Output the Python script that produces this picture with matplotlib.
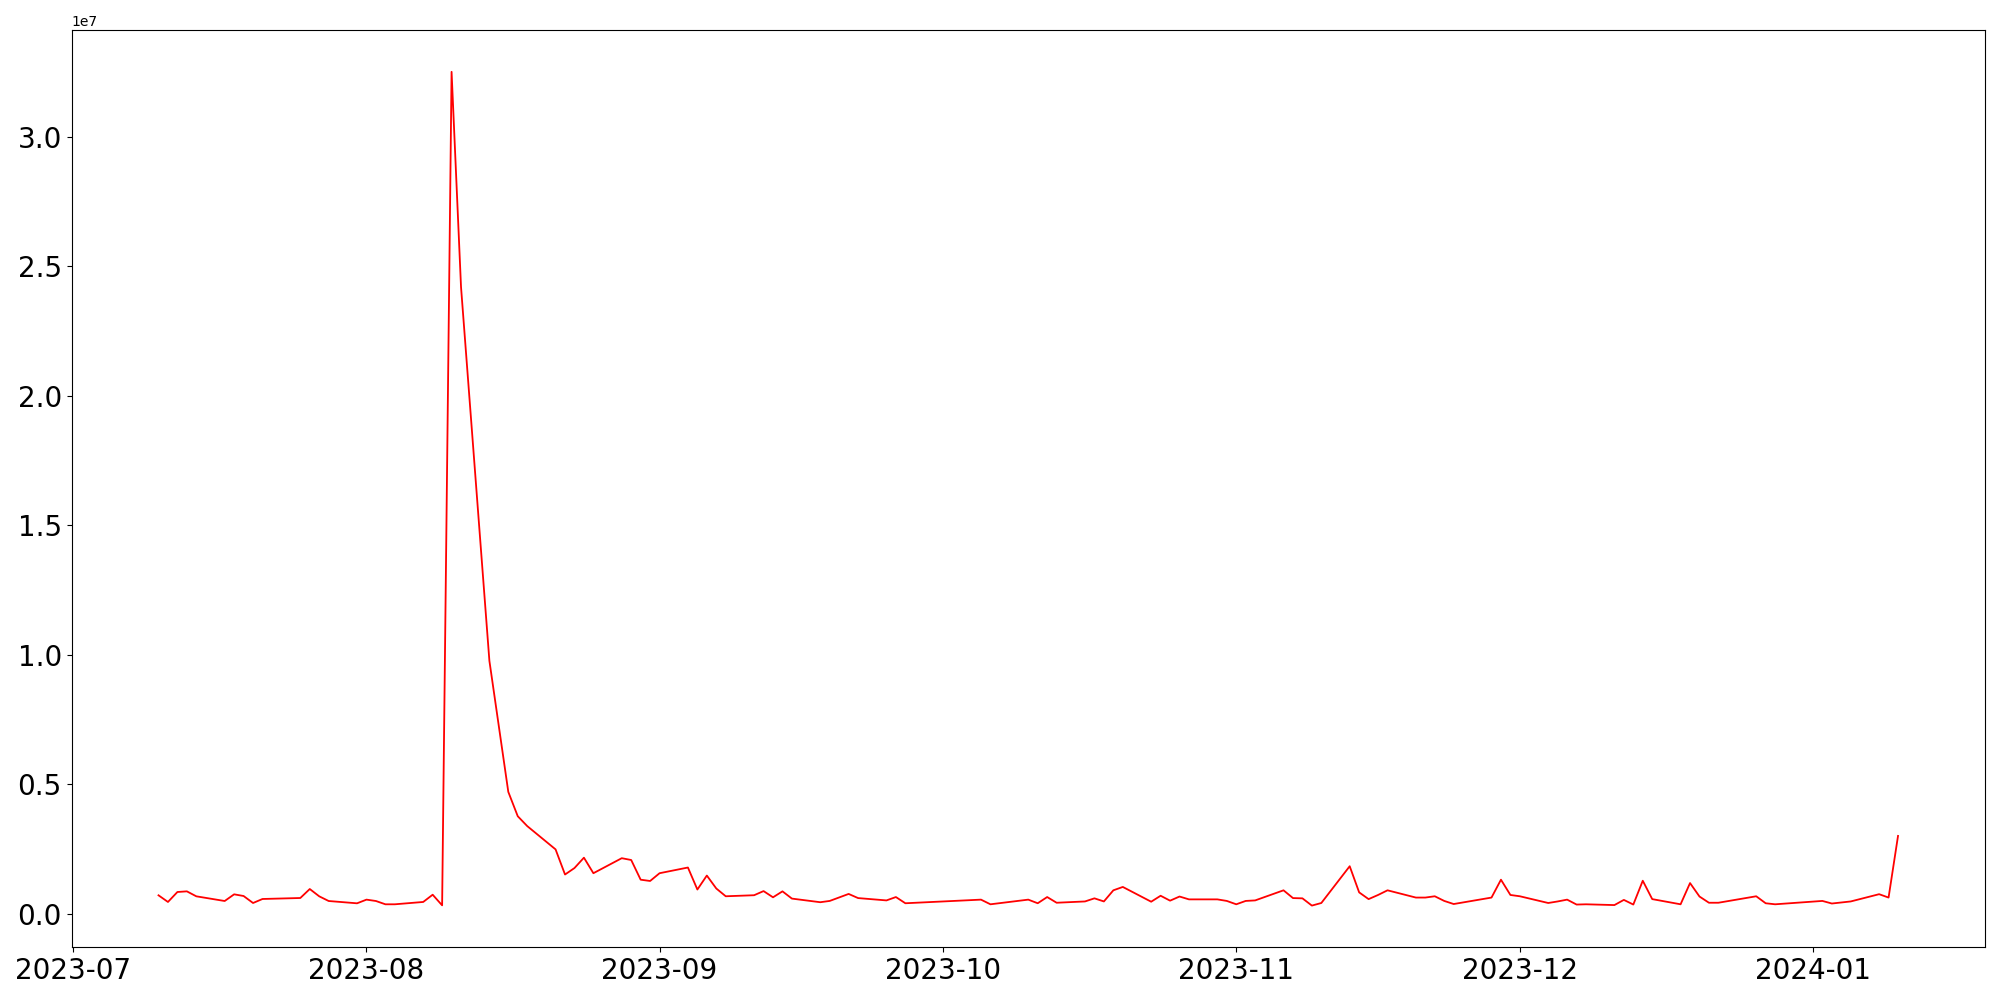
import matplotlib
matplotlib.use('Agg')
import matplotlib.pyplot as plt
import pandas as pd

dates = [
    '2023-07-10', '2023-07-11', '2023-07-12', '2023-07-13', '2023-07-14',
    '2023-07-17', '2023-07-18', '2023-07-19', '2023-07-20', '2023-07-21',
    '2023-07-25', '2023-07-26', '2023-07-27', '2023-07-28',
    '2023-07-31', '2023-08-01', '2023-08-02', '2023-08-03', '2023-08-04',
    '2023-08-07', '2023-08-08', '2023-08-09', '2023-08-10', '2023-08-11',
    '2023-08-14', '2023-08-16', '2023-08-17', '2023-08-18',
    '2023-08-21', '2023-08-22', '2023-08-23', '2023-08-24', '2023-08-25',
    '2023-08-28', '2023-08-29', '2023-08-30', '2023-08-31', '2023-09-01',
    '2023-09-04', '2023-09-05', '2023-09-06', '2023-09-07', '2023-09-08',
    '2023-09-11', '2023-09-12', '2023-09-13', '2023-09-14', '2023-09-15',
    '2023-09-18', '2023-09-19', '2023-09-21', '2023-09-22',
    '2023-09-25', '2023-09-26', '2023-09-27',
    '2023-10-05', '2023-10-06',
    '2023-10-10', '2023-10-11', '2023-10-12', '2023-10-13',
    '2023-10-16', '2023-10-17', '2023-10-18', '2023-10-19', '2023-10-20',
    '2023-10-23', '2023-10-24', '2023-10-25', '2023-10-26', '2023-10-27',
    '2023-10-30', '2023-10-31', '2023-11-01', '2023-11-02', '2023-11-03',
    '2023-11-06', '2023-11-07', '2023-11-08', '2023-11-09', '2023-11-10',
    '2023-11-13', '2023-11-14', '2023-11-15', '2023-11-16', '2023-11-17',
    '2023-11-20', '2023-11-21', '2023-11-22', '2023-11-23', '2023-11-24',
    '2023-11-28', '2023-11-29', '2023-11-30', '2023-12-01',
    '2023-12-04', '2023-12-05', '2023-12-06', '2023-12-07', '2023-12-08',
    '2023-12-11', '2023-12-12', '2023-12-13', '2023-12-14', '2023-12-15',
    '2023-12-18', '2023-12-19', '2023-12-20', '2023-12-21', '2023-12-22',
    '2023-12-26', '2023-12-27', '2023-12-28',
    '2024-01-02', '2024-01-03', '2024-01-05',
    '2024-01-08', '2024-01-09', '2024-01-10',
]

values = [
    707000, 450000, 835000, 860000, 668000,
    487000, 745000, 680000, 410000, 565000,
    603000, 950000, 668000, 487000,
    398000, 540000, 487000, 360000, 360000,
    450000, 730000, 320000, 32500000, 24190000,
    9760000, 4700000, 3760000, 3380000,
    2480000, 1510000, 1760000, 2160000, 1560000,
    2140000, 2070000, 1310000, 1260000, 1560000,
    1780000, 930000, 1470000, 970000, 670000,
    710000, 870000, 630000, 860000, 580000,
    440000, 490000, 760000, 600000,
    510000, 640000, 400000,
    540000, 360000,
    540000, 400000, 640000, 420000,
    470000, 590000, 470000, 900000, 1030000,
    460000, 690000, 500000, 660000, 550000,
    550000, 490000, 360000, 490000, 510000,
    900000, 600000, 590000, 310000, 410000,
    1830000, 820000, 560000, 720000, 900000,
    620000, 620000, 670000, 490000, 370000,
    620000, 1310000, 720000, 670000,
    410000, 470000, 540000, 350000, 360000,
    330000, 530000, 350000, 1270000, 560000,
    360000, 1180000, 660000, 420000, 420000,
    670000, 400000, 360000,
    490000, 390000, 470000,
    750000, 620000, 3000000,
]


def plot():
    x = pd.to_datetime(dates)
    plt.figure(figsize=(20, 10), dpi=100)
    plt.plot(x, values, color='red', linewidth=1.3)
    plt.xticks(fontsize=20)
    plt.yticks(fontsize=20)
    plt.tight_layout()
    plt.savefig('out.png')


if __name__ == '__main__':
    plot()
